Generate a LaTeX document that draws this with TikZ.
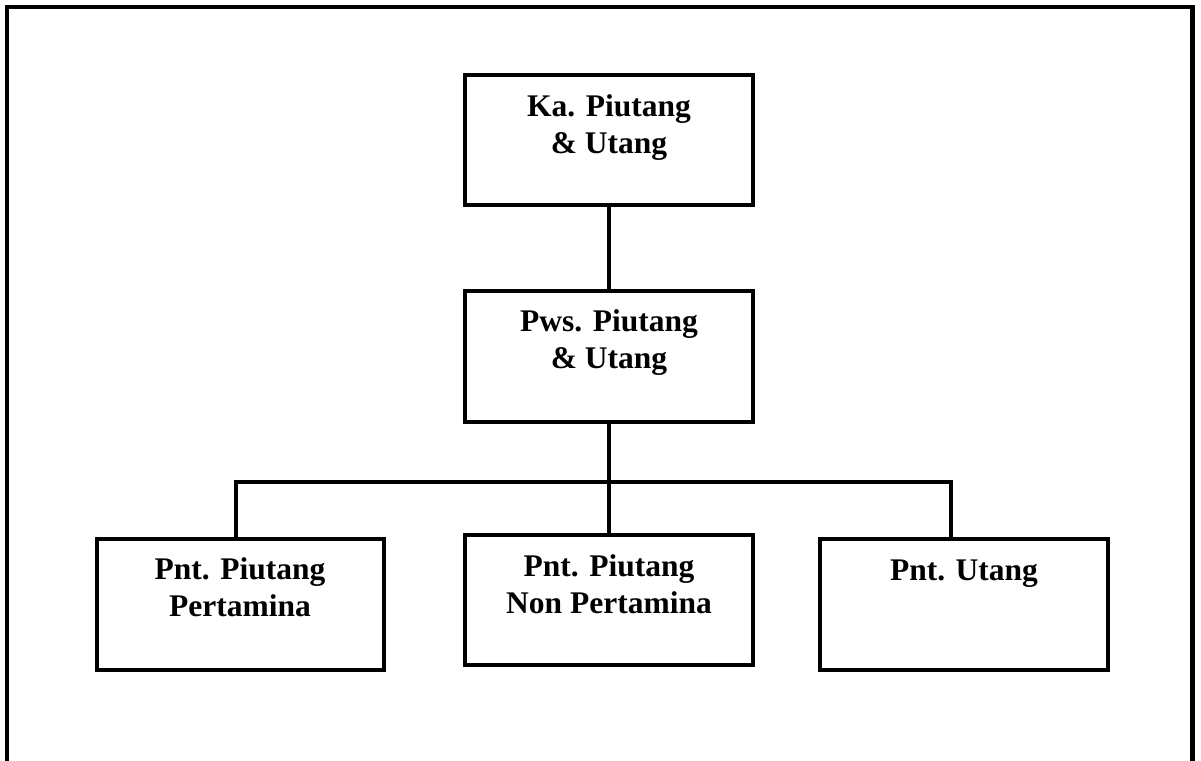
\documentclass[tikz,border=0pt]{standalone}
\usepackage{fontspec}
\setmainfont{Liberation Serif}
\begin{document}
\begin{tikzpicture}[x=1pt,y=-1pt,
  box/.style={draw, line width=4pt, inner sep=0pt, minimum width=288pt, minimum height=131pt},
  lbl/.style={anchor=base, inner sep=0pt, align=center, font=\fontsize{31.5}{37}\selectfont\bfseries},
  conn/.style={line width=4pt}]
\useasboundingbox (0,0) rectangle (1201,760);
\fill[white] (0,0) rectangle (1201,760);
\draw[line width=4.5pt] (7,7) rectangle (1192.5,780);

\node[box, minimum height=130pt] (ka) at (609,140) {};
\node[box] (pws) at (609,356.5) {};
\node[box, minimum width=287.5pt] (pl) at (240.25,604.5) {};
\node[box, minimum height=130pt] (pm) at (609,600) {};
\node[box] (pr) at (964,604.5) {};

\node[lbl] (tka) at (609,153) {Ka. Piutang\\\& Utang};
\node[lbl] (tpws) at (609,368) {Pws. Piutang\\\& Utang};
\node[lbl] (tpl) at (240,616) {Pnt. Piutang\\Pertamina};
\node[lbl] (tpm) at (609,613) {Pnt. Piutang\\Non Pertamina};
\node[lbl] (tpr) at (964,580) {Pnt. Utang};

\coordinate (jl) at (236,482);
\coordinate (jr) at (951,482);
\draw[conn] (ka.south) -- (pws.north);
\draw[conn] (pws.south) -- (pm.north);
\draw[conn] (jl |- pl.north) -- (jl) -- (jr) -- (jr |- pr.north);
\end{tikzpicture}
\end{document}
